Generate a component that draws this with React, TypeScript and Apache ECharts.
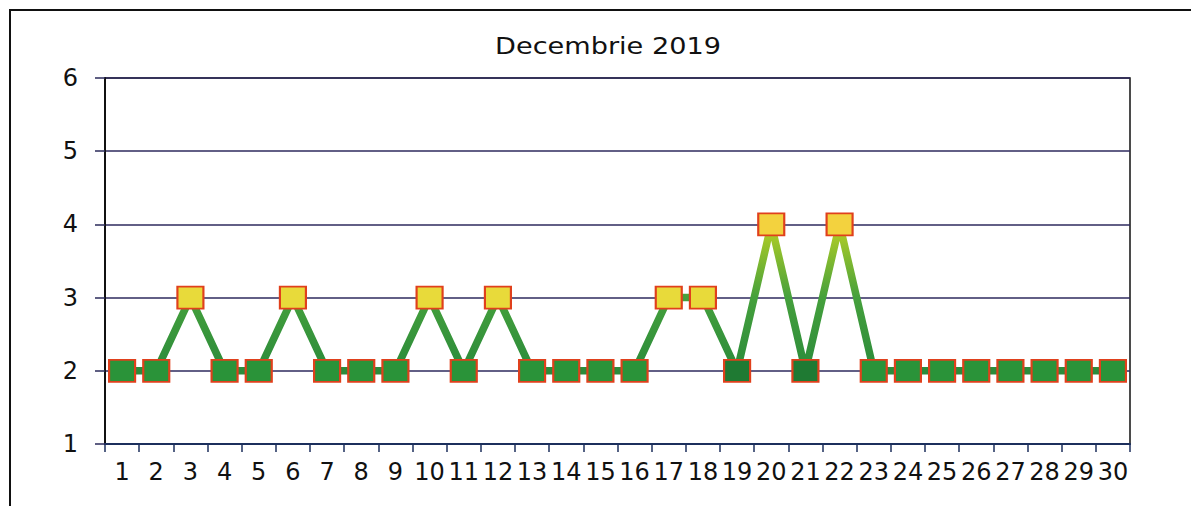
import React, { useEffect, useRef } from "react";
import * as echarts from "echarts";

const titleText = "Decembrie 2019";
const days = Array.from({ length: 30 }, (_, i) => String(i + 1));
const values = [2, 2, 3, 2, 2, 3, 2, 2, 2, 3, 2, 3, 2, 2, 2, 2, 3, 3, 2, 4, 2, 4, 2, 2, 2, 2, 2, 2, 2, 2];
const darkDays = [19, 21];

function markerColor(v: number, day: number) {
  if (v >= 4) return "#f3d23e";
  if (v >= 3) return "#e8da3a";
  return darkDays.includes(day) ? "#1f7a33" : "#2a9339";
}

export default function App() {
  const ref = useRef<HTMLDivElement>(null);
  useEffect(() => {
    if (!ref.current) return;
    const chart = echarts.init(ref.current, null, { renderer: "svg" });
    const font = "DejaVu Sans";
    chart.setOption({
      animation: false,
      backgroundColor: "#ffffff",
      graphic: [
        {
          type: "rect",
          shape: { x: 10, y: 10, width: 1300, height: 600 },
          style: { fill: "none", stroke: "#111", lineWidth: 2 },
          silent: true,
        },
        {
          type: "text",
          x: 608,
          y: 46,
          scaleX: 1.18,
          style: {
            text: titleText,
            fontFamily: font,
            fontSize: 23,
            fill: "#111",
            align: "center",
            verticalAlign: "middle",
          },
        },
      ],
      grid: {
        left: 105,
        right: 61,
        top: 78,
        bottom: 62,
        show: true,
        borderColor: "#111",
        borderWidth: 1.5,
        backgroundColor: "transparent",
      },
      xAxis: {
        type: "category",
        data: days,
        boundaryGap: true,
        axisLine: { lineStyle: { color: "#1c2f5c", width: 2 } },
        axisTick: { show: true, interval: 0, length: 8, lineStyle: { color: "#1c2f5c", width: 1.5 } },
        axisLabel: { interval: 0, margin: 16, fontFamily: font, fontSize: 24, color: "#111" },
        splitLine: { show: false },
      },
      yAxis: {
        type: "value",
        min: 1,
        max: 6,
        interval: 1,
        axisLine: { show: true, lineStyle: { color: "#111", width: 2 } },
        axisTick: { show: true, length: 10, lineStyle: { color: "#2a2a5a", width: 1.5 } },
        axisLabel: { margin: 27, fontFamily: font, fontSize: 24, color: "#111" },
        splitLine: { show: true, lineStyle: { color: "#2e2a5e", width: 1.5 } },
      },
      series: [
        {
          type: "line",
          data: values.map((v, i) => ({
            value: v,
            itemStyle: { color: markerColor(v, i + 1), borderColor: "#e0401c", borderWidth: 2 },
          })),
          symbol: "rect",
          symbolSize: [26, 22],
          showAllSymbol: true,
          lineStyle: {
            width: 7.5,
            color: new echarts.graphic.LinearGradient(0, 1, 0, 0, [
              { offset: 0, color: "#2b8b3b" },
              { offset: 0.5, color: "#45a03c" },
              { offset: 1, color: "#b8d024" },
            ]),
          },
          z: 3,
        },
      ],
    });
    return () => chart.dispose();
  }, []);
  return (
    <div
      style={{ position: "fixed", left: 0, top: 0, width: 1191, height: 506, background: "#fff" }}
    >
      <div ref={ref} style={{ width: 1191, height: 506 }} />
    </div>
  );
}
